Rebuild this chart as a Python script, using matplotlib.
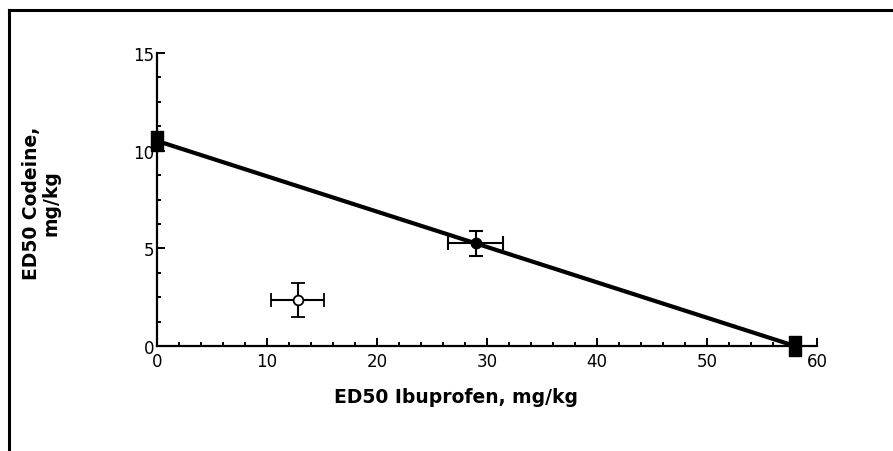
import matplotlib
matplotlib.use("Agg")
import matplotlib.pyplot as plt
from matplotlib.lines import Line2D
from matplotlib.ticker import MultipleLocator
from matplotlib.path import Path

# Isobologram data (ED50 values, mg/kg)
line_x = [0, 58]          # ibuprofen axis intercepts of additivity line
line_y = [10.5, 0]        # codeine axis intercepts of additivity line

theor_x = [29.0]
theor_y = [5.25]
theor_xerr = [2.5]
theor_yerr = [0.65]

exp_x = [12.8]
exp_y = [2.35]
exp_xerr = [2.4]
exp_yerr = [0.85]

x_ticks = [0, 10, 20, 30, 40, 50, 60]
y_ticks = [0, 5, 10, 15]

plt.rcParams['font.family'] = ['DejaVu Sans']

fig = plt.figure(figsize=(8.93, 4.52), dpi=100)
fig.patch.set_facecolor('white')

# window frame along the top and left edges
fig.add_artist(Line2D([8.5/893, 1.0], [1 - 10.5/452, 1 - 10.5/452],
                      transform=fig.transFigure, color='black', lw=2.2))
fig.add_artist(Line2D([8.5/893, 8.5/893], [0, 1 - 10.5/452],
                      transform=fig.transFigure, color='black', lw=2.2))

ax = fig.add_axes([157/893, 1 - 347/452, (817 - 157)/893, (347 - 54)/452])
ax.set_xlim(0, 60)
ax.set_ylim(0, 15)
ax.set_facecolor('none')

for s in ('top', 'right'):
    ax.spines[s].set_visible(False)
for s in ('left', 'bottom'):
    ax.spines[s].set_linewidth(1.6)
    ax.spines[s].set_color('black')

ax.set_xticks(x_ticks)
ax.set_yticks(y_ticks)
ax.xaxis.set_minor_locator(MultipleLocator(2))
ax.yaxis.set_minor_locator(MultipleLocator(1.25))
ax.tick_params(which='major', direction='in', length=5.5, width=1.4,
               labelsize=12, pad=4, colors='black')
ax.tick_params(axis='y', which='major', pad=2)
ax.tick_params(which='minor', direction='in', length=3, width=1.4)

# additivity line
ax.plot(line_x, line_y, color='black', lw=3, solid_capstyle='butt', zorder=3)

# end markers (tall filled rectangles)
rect = Path([(-0.5, -0.9), (0.5, -0.9), (0.5, 0.9), (-0.5, 0.9), (-0.5, -0.9)],
            [Path.MOVETO, Path.LINETO, Path.LINETO, Path.LINETO, Path.CLOSEPOLY])
ax.plot(line_x, line_y, linestyle='none', marker=rect, markersize=15,
        color='black', clip_on=False, zorder=4)

# theoretical additive point
ax.errorbar(theor_x, theor_y, xerr=theor_xerr, yerr=theor_yerr, fmt='o',
            color='black', markersize=7.5, elinewidth=1.5, capsize=4.7,
            capthick=1.5, zorder=5)

# experimental point
ax.errorbar(exp_x, exp_y, xerr=exp_xerr, yerr=exp_yerr, fmt='o',
            color='black', mfc='white', mec='black', mew=1.3, markersize=7,
            elinewidth=1.5, capsize=4.7, capthick=1.5, zorder=5)

fig.text(456/893, 1 - 398/452, 'ED50 Ibuprofen, mg/kg', fontsize=13.5,
         fontweight='bold', ha='center', va='center')
fig.text(41/893, 1 - 203/452, 'ED50 Codeine,\nmg/kg', fontsize=13.5,
         fontweight='bold', ha='center', va='center', rotation=90,
         multialignment='center', linespacing=1.0)

fig.savefig('out.png', dpi=100, facecolor='white')
